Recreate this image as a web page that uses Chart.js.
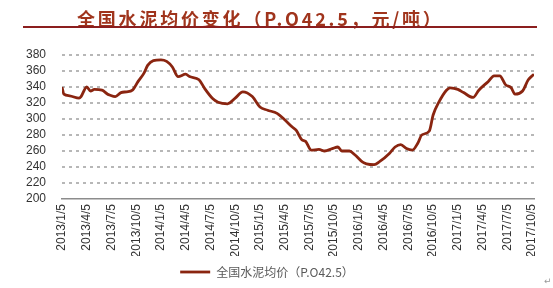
<!DOCTYPE html>
<html>
<head>
<meta charset="utf-8">
<script src="https://cdn.jsdelivr.net/npm/chart.js@4"></script>
<style>
  html, body { margin: 0; padding: 0; background: #fff; }
  #wrap { position: relative; width: 553px; height: 288px; overflow: hidden; }
  #chart { position: absolute; left: 0; top: 0; }
  #title {
    position: absolute; left: 77px; top: 5px;
    font: bold 18px "Noto Sans CJK SC", sans-serif;
    color: #A0341C; letter-spacing: 2.8px; white-space: nowrap;
  }
  #rule { position: absolute; left: 23px; top: 26px; width: 514px; height: 2px; background: #8B1E1E; }
  #mark { position: absolute; left: 544px; top: 276px; font: 9px "DejaVu Sans", sans-serif; color: #999; }
</style>
</head>
<body>
<div id="wrap">
  <canvas id="chart" width="553" height="288"></canvas>
  <div id="title">全国水泥均价变化（P.O42.5，元/吨）</div>
  <div id="rule"></div>
  <div id="mark">↵</div>
</div>
<script>
// ── Data (weeks counted from 2013/1/5) ─────────────────────────────
const tickLabels = [
  '2013/1/5','2013/4/5','2013/7/5','2013/10/5',
  '2014/1/5','2014/4/5','2014/7/5','2014/10/5',
  '2015/1/5','2015/4/5','2015/7/5','2015/10/5',
  '2016/1/5','2016/4/5','2016/7/5','2016/10/5',
  '2017/1/5','2017/4/5','2017/7/5','2017/10/5',
];

const weeks = [
  0, 1, 4, 9, 10, 13, 15, 17, 21, 24, 25, 28, 31, 34, 37, 40, 43, 45, 48, 52,
  55, 58, 61, 65, 67, 72, 75, 79, 82, 87, 91, 95, 100, 104, 108, 113, 117, 121, 123, 126,
  128, 131, 135, 138, 142, 145, 147, 151, 154, 158, 160, 164, 167, 172, 175, 178, 181, 184, 187, 189,
  193, 195, 198, 202, 204, 208, 211, 216, 219, 224, 227, 230, 233, 236, 238, 242, 245, 248,
];

const price = [
  340, 331, 329, 326, 328, 340, 335, 337, 336, 331, 330, 328, 333, 334, 336, 347, 357, 367, 373, 374,
  372, 365, 353, 356, 353, 349, 338, 326, 321, 319, 326, 334, 328, 315, 311, 307, 299, 290, 286, 274,
  272, 261, 262, 260, 263, 265, 260, 260, 255, 246, 244, 243, 247, 257, 265, 268, 263, 261, 270, 280,
  285, 305, 321, 336, 339, 337, 333, 327, 336, 347, 354, 354, 343, 339, 331, 335, 349, 356,
];

const WEEKS_PER_TICK = 13;
const LINE_COLOR = '#8A2510';
const TICK_FONT = { family: "'Liberation Sans', Arial, sans-serif", size: 12 };

// dashed horizontal grid, one line per y tick (the bottom one is the x axis)
const dashedGrid = {
  id: 'dashedGrid',
  beforeDatasetsDraw(chart) {
    const { ctx, chartArea, scales: { y } } = chart;
    ctx.save();
    ctx.strokeStyle = '#A0A0A0';
    ctx.lineWidth = 1.5;
    ctx.setLineDash([3, 4]);
    y.ticks.forEach(t => {
      if (t.value === y.min) return;
      const py = Math.round(y.getPixelForValue(t.value));
      ctx.beginPath();
      ctx.moveTo(chartArea.left, py);
      ctx.lineTo(chartArea.right, py);
      ctx.stroke();
    });
    ctx.restore();
  },
};

// ── Chart ───────────────────────────────────────────────────────────
new Chart(document.getElementById('chart'), {
  type: 'line',
  data: {
    datasets: [{
      label: '全国水泥均价（P.O42.5）',
      data: weeks.map((w, i) => ({ x: w, y: price[i] })),
      borderColor: LINE_COLOR,
      backgroundColor: LINE_COLOR,
      borderWidth: 2.8,
      pointRadius: 0,
      cubicInterpolationMode: 'monotone',
      fill: false,
    }],
  },
  plugins: [dashedGrid],
  options: {
    responsive: false,
    animation: false,
    layout: { padding: { top: 55, left: 0, right: 19, bottom: 0 } },
    plugins: {
      tooltip: { enabled: false },
      legend: {
        position: 'bottom',
        labels: {
          usePointStyle: true,
          pointStyle: 'line',
          pointStyleWidth: 30,
          padding: 10,
          color: '#595959',
          font: { family: "'Noto Sans CJK SC', sans-serif", size: 12 },
        },
      },
    },
    scales: {
      x: {
        type: 'linear',
        min: 0,
        max: 248,
        afterFit: s => { s.height = 57; },
        grid: { display: false, drawTicks: false },
        border: { display: true, color: '#8C8C8C', width: 1.5 },
        ticks: {
          stepSize: WEEKS_PER_TICK,
          includeBounds: false,
          autoSkip: false,
          maxRotation: 90,
          minRotation: 90,
          padding: 5,
          color: '#333333',
          font: TICK_FONT,
          callback: v => tickLabels[v / WEEKS_PER_TICK] || '',
        },
      },
      y: {
        min: 200,
        max: 380,
        afterFit: s => { s.width = 62; },
        grid: { display: false, drawTicks: false },
        border: { display: false },
        ticks: {
          stepSize: 20,
          autoSkip: false,
          padding: 16,
          color: '#333333',
          font: TICK_FONT,
        },
      },
    },
  },
});
</script>
</body>
</html>
